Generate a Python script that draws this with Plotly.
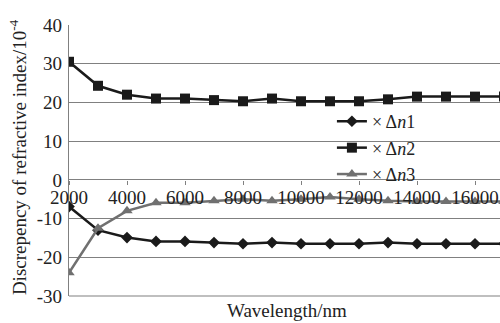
import plotly.graph_objects as go

wavelength = [2000, 3000, 4000, 5000, 6000, 7000, 8000, 9000, 10000, 11000, 12000, 13000, 14000, 15000, 16000, 17000]
dn1 = [-6.9, -13.0, -14.9, -15.9, -15.9, -16.2, -16.5, -16.2, -16.5, -16.5, -16.5, -16.2, -16.5, -16.5, -16.5, -16.5]
dn2 = [30.5, 24.3, 22.0, 21.0, 21.0, 20.6, 20.3, 21.0, 20.3, 20.3, 20.3, 20.8, 21.5, 21.5, 21.5, 21.5]
dn3 = [-24.0, -12.5, -8.0, -5.9, -5.9, -5.4, -5.0, -5.4, -5.0, -4.4, -5.0, -5.4, -5.6, -5.6, -5.6, -5.6]

y_ticks = [40, 30, 20, 10, 0, -10, -20, -30]
y_ticktext = ["40", "30", "20", "10", "0", "-10", "-20", "-30"]
x_ticks = [2000, 4000, 6000, 8000, 10000, 12000, 14000, 16000]
x_ticktext = ["2000", "4000", "6000", "8000", "10000", "12000", "14000", "16000"]

FONT = "Liberation Serif"
BLACK = "#1a1a1a"
GRAY = "#707070"
TXT = "#222"

fig = go.Figure()
fig.add_trace(go.Scatter(x=wavelength, y=dn1, mode="lines+markers", name="× Δ<i>n</i>1",
                         line=dict(color=BLACK, width=2.5),
                         marker=dict(symbol="diamond", size=9, color=BLACK), cliponaxis=True))
fig.add_trace(go.Scatter(x=wavelength, y=dn2, mode="lines+markers", name="× Δ<i>n</i>2",
                         line=dict(color=BLACK, width=2.5),
                         marker=dict(symbol="square", size=10, color=BLACK), cliponaxis=True))
fig.add_trace(go.Scatter(x=wavelength, y=dn3, mode="lines+markers", name="× Δ<i>n</i>3",
                         line=dict(color=GRAY, width=2.5),
                         marker=dict(symbol="triangle-up", size=10, color=GRAY), cliponaxis=True))

fig.update_layout(
    width=500, height=323,
    margin=dict(l=69, r=0, t=25, b=27, autoexpand=False),
    paper_bgcolor="white", plot_bgcolor="white",
    font=dict(family=FONT, size=16, color=TXT),
    showlegend=True,
    legend=dict(x=0.61, y=0.712, xanchor="left", yanchor="top", bgcolor="rgba(0,0,0,0)",
                font=dict(family=FONT, size=18, color=TXT), itemwidth=30,
                tracegroupgap=0),
    xaxis=dict(range=[2000, 16862], tickvals=x_ticks, ticktext=x_ticktext,
               showgrid=False, zeroline=False, showline=False, automargin=False,
               anchor="free", position=30/70, ticks="outside", ticklen=4,
               tickcolor="#808080", tickwidth=1, ticklabelstandoff=-4,
               tickfont=dict(family=FONT, size=19, color=TXT)),
    yaxis=dict(range=[-30, 40], tickvals=y_ticks, ticktext=y_ticktext, automargin=False,
               showgrid=True, gridcolor="#808080", gridwidth=1.2,
               zeroline=False, showline=True, linecolor="#808080", linewidth=1.2,
               ticks="", ticklabelstandoff=2, tickfont=dict(family=FONT, size=19, color=TXT)),
    shapes=[dict(type="line", xref="paper", yref="paper", x0=0, x1=1, y0=0, y1=0,
                 line=dict(color="#808080", width=1.2))],
    annotations=[
        dict(text="Wavelength/nm", xref="paper", yref="paper", x=0.505, y=-0.055,
             xanchor="center", yanchor="middle", showarrow=False,
             font=dict(family=FONT, size=19, color=TXT)),
        dict(text="Discrepency of refractive index/10<sup>-4</sup>", xref="paper", yref="paper",
             x=-0.118, y=0.513, xanchor="center", yanchor="middle", textangle=-90,
             showarrow=False, font=dict(family=FONT, size=19, color=TXT)),
    ],
)

fig.write_html("out.html", config={"displayModeBar": False},
               post_script="document.body.style.margin='0';document.body.style.overflow='hidden';")
